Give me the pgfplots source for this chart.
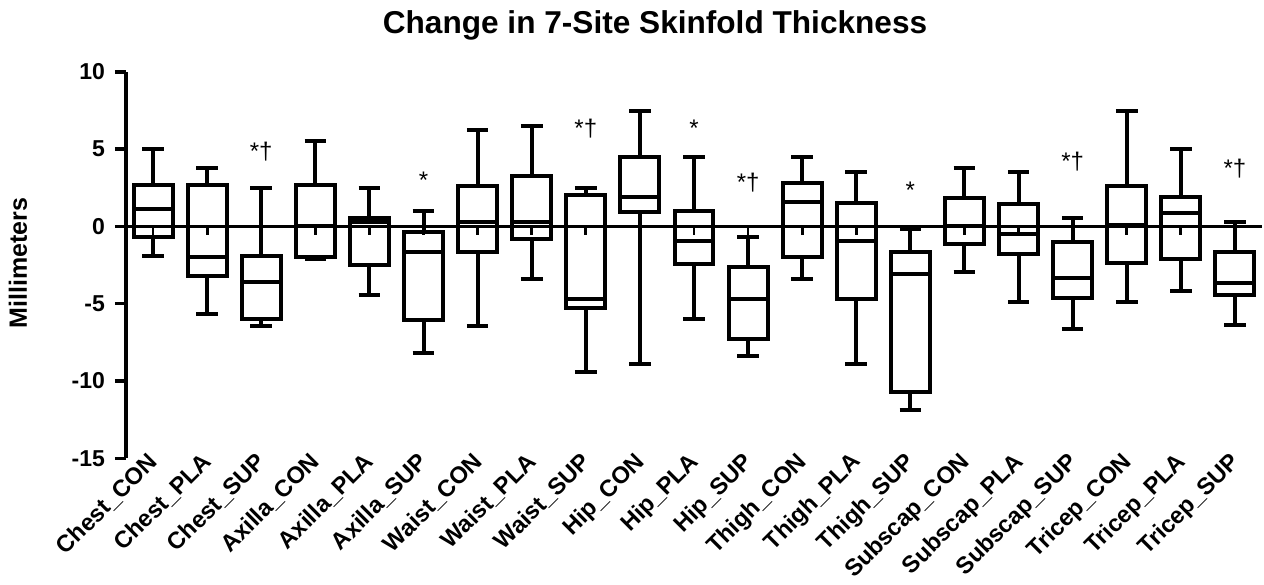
\documentclass[border=0pt]{standalone}
\usepackage{pgfplots}
\pgfplotsset{compat=1.18}
\usepgfplotslibrary{statistics}
\usepackage{fontspec}
\setmainfont{Liberation Sans}
\begin{document}
\begin{tikzpicture}
\begin{axis}[
  scale only axis, width=568pt, height=193.3pt,
  xmin=-0.5, xmax=20.5, ymin=-15, ymax=10,
  axis y line*=left, axis x line*=bottom,
  x axis line style={draw=none},
  y axis line style={line width=1.8pt},
  ytick={-15,-10,-5,0,5,10},
  xtick={0,...,20},
  xticklabels={Chest\_CON,Chest\_PLA,Chest\_SUP,Axilla\_CON,Axilla\_PLA,Axilla\_SUP,Waist\_CON,Waist\_PLA,Waist\_SUP,Hip\_CON,Hip\_PLA,Hip\_SUP,Thigh\_CON,Thigh\_PLA,Thigh\_SUP,Subscap\_CON,Subscap\_PLA,Subscap\_SUP,Tricep\_CON,Tricep\_PLA,Tricep\_SUP},
  x tick style={draw=none},
  xticklabel style={xshift=-3.25pt, yshift=9.5pt, rotate=45, anchor=north east, inner sep=0pt, font=\fontsize{11.8}{13}\selectfont\bfseries},
  yticklabel style={xshift=-1.5pt, font=\fontsize{11.5}{13}\selectfont\bfseries},
  /pgf/number format/assume math mode=true,
  y tick style={line width=1.8pt, black},
  tick align=outside, major tick length=5.5pt,
  boxplot/draw direction=y,
  boxplot/box extend=0.72, boxplot/whisker extend=0.4,
  clip=false,
]
\addplot[black, line width=1.8pt] coordinates {(-0.5,0) (20.5,0)};
\addplot[ycomb, black, line width=1.4pt] coordinates {(0,-0.55) (1,-0.55) (2,-0.55) (3,-0.55) (4,-0.55) (5,-0.55) (6,-0.55) (7,-0.55) (8,-0.55) (9,-0.55) (10,-0.55) (11,-0.55) (12,-0.55) (13,-0.55) (14,-0.55) (15,-0.55) (16,-0.55) (17,-0.55) (18,-0.55) (19,-0.55) (20,-0.55)};
\pgfplotsset{every axis plot/.append style={black, line width=2pt}}
\addplot[boxplot prepared={lower whisker=-1.93, lower quartile=-0.70, median=1.09, upper quartile=2.70, upper whisker=5.01, draw position=0}] coordinates {};
\addplot[boxplot prepared={lower whisker=-5.70, lower quartile=-3.18, median=-1.99, upper quartile=2.70, upper whisker=3.76, draw position=1}] coordinates {};
\addplot[boxplot prepared={lower whisker=-6.45, lower quartile=-6.02, median=-3.57, upper quartile=-1.89, upper whisker=2.51, draw position=2}] coordinates {};
\addplot[boxplot prepared={lower whisker=-2.14, lower quartile=-1.99, median=0.02, upper quartile=2.70, upper whisker=5.51, draw position=3}] coordinates {};
\addplot[boxplot prepared={lower whisker=-4.43, lower quartile=-2.47, median=0.30, upper quartile=0.55, upper whisker=2.51, draw position=4}] coordinates {};
\addplot[boxplot prepared={lower whisker=-8.18, lower quartile=-6.08, median=-1.66, upper quartile=-0.34, upper whisker=1.00, draw position=5}] coordinates {};
\addplot[boxplot prepared={lower whisker=-6.45, lower quartile=-1.63, median=0.27, upper quartile=2.60, upper whisker=6.24, draw position=6}] coordinates {};
\addplot[boxplot prepared={lower whisker=-3.42, lower quartile=-0.81, median=0.27, upper quartile=3.24, upper whisker=6.50, draw position=7}] coordinates {};
\addplot[boxplot prepared={lower whisker=-9.43, lower quartile=-5.29, median=-4.73, upper quartile=2.04, upper whisker=2.51, draw position=8}] coordinates {};
\addplot[boxplot prepared={lower whisker=-8.91, lower quartile=0.92, median=1.89, upper quartile=4.51, upper whisker=7.49, draw position=9}] coordinates {};
\addplot[boxplot prepared={lower whisker=-5.99, lower quartile=-2.42, median=-0.92, upper quartile=0.96, upper whisker=4.51, draw position=10}] coordinates {};
\addplot[boxplot prepared={lower whisker=-8.38, lower quartile=-7.30, median=-4.69, upper quartile=-2.63, upper whisker=-0.70, draw position=11}] coordinates {};
\addplot[boxplot prepared={lower whisker=-3.42, lower quartile=-1.99, median=1.56, upper quartile=2.78, upper whisker=4.51, draw position=12}] coordinates {};
\addplot[boxplot prepared={lower whisker=-8.91, lower quartile=-4.69, median=-0.92, upper quartile=1.52, upper whisker=3.50, draw position=13}] coordinates {};
\addplot[boxplot prepared={lower whisker=-11.90, lower quartile=-10.72, median=-3.06, upper quartile=-1.66, upper whisker=-0.16, draw position=14}] coordinates {};
\addplot[boxplot prepared={lower whisker=-2.97, lower quartile=-1.13, median=0.05, upper quartile=1.82, upper whisker=3.76, draw position=15}] coordinates {};
\addplot[boxplot prepared={lower whisker=-4.87, lower quartile=-1.81, median=-0.48, upper quartile=1.45, upper whisker=3.50, draw position=16}] coordinates {};
\addplot[boxplot prepared={lower whisker=-6.64, lower quartile=-4.63, median=-3.34, upper quartile=-0.99, upper whisker=0.53, draw position=17}] coordinates {};
\addplot[boxplot prepared={lower whisker=-4.87, lower quartile=-2.36, median=0.10, upper quartile=2.60, upper whisker=7.49, draw position=18}] coordinates {};
\addplot[boxplot prepared={lower whisker=-4.15, lower quartile=-2.14, median=0.87, upper quartile=1.89, upper whisker=5.01, draw position=19}] coordinates {};
\addplot[boxplot prepared={lower whisker=-6.40, lower quartile=-4.42, median=-3.67, upper quartile=-1.66, upper whisker=0.31, draw position=20}] coordinates {};
\begin{scope}[every node/.style={anchor=base, font=\fontsize{12}{14}\selectfont, inner sep=0pt}]
\node at (axis cs:2,4.31) {*†};
\node at (axis cs:5,2.44) {*};
\node at (axis cs:8,5.78) {*†};
\node at (axis cs:10,5.78) {*};
\node at (axis cs:11,2.31) {*†};
\node at (axis cs:14,1.79) {*};
\node at (axis cs:17,3.67) {*†};
\node at (axis cs:20,3.23) {*†};
\end{scope}
\end{axis}
\node[anchor=base, font=\fontsize{15.8}{18}\selectfont\bfseries] at (264.5pt,212.5pt) {Change in 7-Site Skinfold Thickness};
\node[rotate=90, font=\fontsize{12.5}{14}\selectfont\bfseries] at (-54pt,97.6pt) {Millimeters};
\pgfresetboundingbox
\path (-63pt,-62.85pt) rectangle (569pt,229.15pt);
\end{tikzpicture}
\end{document}
